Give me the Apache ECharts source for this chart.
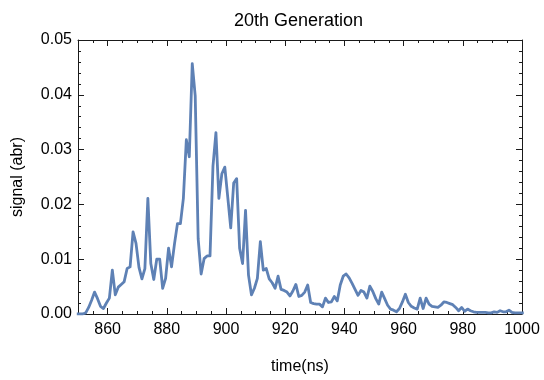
<!DOCTYPE html>
<html>
<head>
<meta charset="utf-8">
<script src="https://cdn.jsdelivr.net/npm/echarts@6/dist/echarts.min.js"></script>
<style>
  html, body { margin: 0; padding: 0; background: #fff; }
  #chart { width: 544px; height: 380px; }
</style>
</head>
<body>
<div id="chart"></div>
<script>
// Sample times (ns)
const times = [
  849.6, 850.6, 851.6, 852.6, 853.6, 854.6, 855.6, 856.6, 857.6, 858.6, 859.6,
  860.6, 861.6, 862.6, 863.6, 864.6, 865.6, 866.6, 867.6, 868.6, 869.6,
  870.6, 871.6, 872.6, 873.6, 874.6, 875.6, 876.6, 877.6, 878.6, 879.6,
  880.6, 881.6, 882.6, 883.6, 884.6, 885.6, 886.6, 887.6, 888.6, 889.6,
  890.6, 891.6, 892.6, 893.6, 894.6, 895.6, 896.6, 897.6, 898.6, 899.6,
  900.6, 901.6, 902.6, 903.6, 904.6, 905.6, 906.6, 907.6, 908.6, 909.6,
  910.6, 911.6, 912.6, 913.6, 914.6, 915.6, 916.6, 917.6, 918.6, 919.6,
  920.6, 921.6, 922.6, 923.6, 924.6, 925.6, 926.6, 927.6, 928.6, 929.6,
  930.6, 931.6, 932.6, 933.6, 934.6, 935.6, 936.6, 937.6, 938.6, 939.6,
  940.6, 941.6, 942.6, 943.6, 944.6, 945.6, 946.6, 947.6, 948.6, 949.6,
  950.6, 951.6, 952.6, 953.6, 954.6, 955.6, 956.6, 957.6, 958.6, 959.6,
  960.6, 961.6, 962.6, 963.6, 964.6, 965.6, 966.6, 967.6, 968.6, 969.6,
  970.6, 971.6, 972.6, 973.6, 974.6, 975.6, 976.6, 977.6, 978.6, 979.6,
  980.6, 981.6, 982.6, 983.6, 984.6, 985.6, 986.6, 987.6, 988.6, 989.6,
  990.6, 991.6, 992.6, 993.6, 994.6, 995.6, 996.6, 997.6, 998.6, 999.6,
  1000.6
];

// Signal (arb. units) at each sample time
const signal = [
  0.0000, 0.0000, 0.0000, 0.0002, 0.0012, 0.0025, 0.0040, 0.0028, 0.0014, 0.0010, 0.0020,
  0.0029, 0.0080, 0.0035, 0.0049, 0.0054, 0.0059, 0.0083, 0.0086, 0.0150, 0.0129,
  0.0085, 0.0064, 0.0083, 0.0211, 0.0092, 0.0063, 0.0100, 0.0100, 0.0047, 0.0065,
  0.0120, 0.0086, 0.0128, 0.0165, 0.0165, 0.0211, 0.0318, 0.0287, 0.0457, 0.0398,
  0.0137, 0.0073, 0.0101, 0.0106, 0.0106, 0.0270, 0.0331, 0.0211, 0.0256, 0.0268,
  0.0213, 0.0157, 0.0239, 0.0247, 0.0120, 0.0092, 0.0189, 0.0071, 0.0035, 0.0047,
  0.0065, 0.0132, 0.0080, 0.0083, 0.0064, 0.0057, 0.0047, 0.0069, 0.0045, 0.0043,
  0.0040, 0.0033, 0.0042, 0.0054, 0.0032, 0.0034, 0.0040, 0.0053, 0.0021, 0.0019,
  0.0018, 0.0018, 0.0013, 0.0029, 0.0021, 0.0022, 0.0032, 0.0024, 0.0053, 0.0069,
  0.0073, 0.0066, 0.0056, 0.0045, 0.0034, 0.0043, 0.0040, 0.0029, 0.0051, 0.0041,
  0.0028, 0.0018, 0.0040, 0.0028, 0.0016, 0.0009, 0.0007, 0.0004, 0.0010, 0.0022,
  0.0036, 0.0021, 0.0014, 0.0011, 0.0009, 0.0029, 0.0010, 0.0029, 0.0018, 0.0014,
  0.0013, 0.0012, 0.0016, 0.0022, 0.0021, 0.0019, 0.0017, 0.0012, 0.0006, 0.0012,
  0.0005, 0.0009, 0.0006, 0.0004, 0.0003, 0.0003, 0.0003, 0.0003, 0.0002, 0.0002,
  0.0004, 0.0003, 0.0006, 0.0004, 0.0004, 0.0007, 0.0003, 0.0002, 0.0002, 0.0002,
  0.0002
];

// Labelled ticks
const xTickLabels = [860, 880, 900, 920, 940, 960, 980, 1000];
const yTickLabels = [0.00, 0.01, 0.02, 0.03, 0.04, 0.05];

const X_MIN = 850, X_MAX = 1000, X_MINOR = 5;
const Y_MIN = 0, Y_MAX = 0.05, Y_STEP = 0.01;

const FONT = 'Liberation Sans, Arial, Helvetica, sans-serif';
const FRAME = '#1a1a1a';
const LINE_COLOR = '#5E81B5';

const points = times.map((t, i) => [t, signal[i]]);

// Frame axis helpers: minor ticks on one axis, labelled major ticks on an overlaid one
function xAxisMinor(position) {
  return {
    type: 'value', position, min: X_MIN, max: X_MAX, interval: X_MINOR,
    axisLine: { show: true, onZero: false, lineStyle: { color: FRAME, width: 1 } },
    axisTick: { show: true, inside: true, length: 3, lineStyle: { color: FRAME } },
    axisLabel: { show: false }, splitLine: { show: false }
  };
}
function xAxisMajor(position, withLabels) {
  return {
    type: 'value', position, min: X_MIN, max: X_MAX,
    axisLine: { show: false, onZero: false },
    axisTick: { show: true, inside: true, length: 6, customValues: xTickLabels, lineStyle: { color: FRAME } },
    axisLabel: {
      show: withLabels, customValues: xTickLabels, margin: 8,
      color: '#000', fontFamily: FONT, fontSize: 16,
      formatter: v => String(Math.round(v))
    },
    splitLine: { show: false }
  };
}
function yAxisFrame(position, withLabels) {
  return {
    type: 'value', position, min: Y_MIN, max: Y_MAX, interval: Y_STEP,
    axisLine: { show: true, onZero: false, lineStyle: { color: FRAME, width: 1 } },
    axisTick: { show: true, inside: true, length: 6, lineStyle: { color: FRAME } },
    minorTick: { show: true, splitNumber: 5, length: 3, lineStyle: { color: FRAME } },
    axisLabel: {
      show: withLabels, margin: 6, color: '#000', fontFamily: FONT, fontSize: 16,
      formatter: v => {
        const hit = yTickLabels.find(t => Math.abs(t - v) < 1e-9);
        return hit === undefined ? '' : hit.toFixed(2);
      }
    },
    splitLine: { show: false }, minorSplitLine: { show: false }
  };
}

const xMain = xAxisMajor('bottom', true);
xMain.name = 'time(ns)';
xMain.nameLocation = 'middle';
xMain.nameGap = 45;
xMain.nameTextStyle = { color: '#000', fontFamily: FONT, fontSize: 16 };

const yMain = yAxisFrame('left', true);
yMain.name = 'signal (abr)';
yMain.nameLocation = 'middle';
yMain.nameGap = 52;
yMain.nameTextStyle = { color: '#000', fontFamily: FONT, fontSize: 16 };

const chart = echarts.init(document.getElementById('chart'), null, { renderer: 'canvas' });
chart.setOption({
  animation: false,
  backgroundColor: '#fff',
  title: {
    text: '20th Generation',
    left: 229, top: 7,
    textStyle: { color: '#000', fontFamily: FONT, fontSize: 18, fontWeight: 'normal' }
  },
  grid: { left: 78, right: 22, top: 40, bottom: 66, containLabel: false },
  xAxis: [xMain, xAxisMinor('bottom'), xAxisMinor('top'), xAxisMajor('top', false)],
  yAxis: [yMain, yAxisFrame('right', false)],
  series: [{
    type: 'line',
    xAxisIndex: 0, yAxisIndex: 0,
    data: points,
    showSymbol: false,
    symbol: 'none',
    clip: true,
    lineStyle: { color: LINE_COLOR, width: 2.8, join: 'round' }
  }]
});
</script>
</body>
</html>
